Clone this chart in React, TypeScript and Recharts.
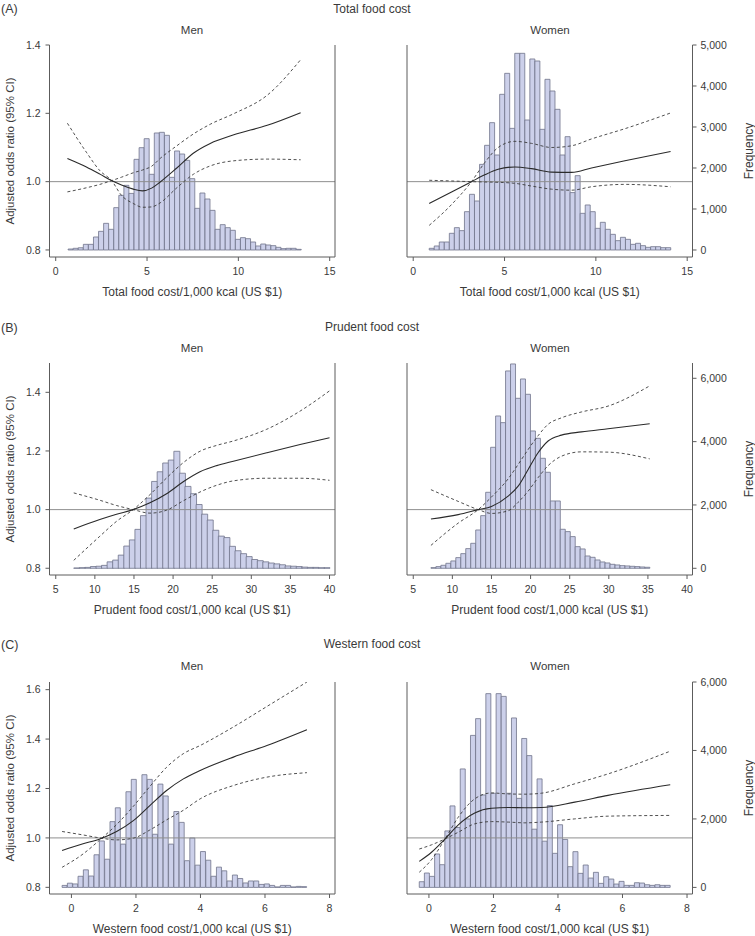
import React from 'react';
import { ComposedChart, Bar, Line, XAxis, YAxis, ReferenceLine } from 'recharts';

const FONT = '"Liberation Sans", Arial, sans-serif';
const TEXT = '#3a3a3a';
const AXIS = '#5c5c5c';
const BAR_FILL = '#ccd0ea';
const BAR_STROKE = '#70738a';

// ---------- (A) Total food cost ----------
const totalXTicks = [0, 5, 10, 15];
const totalOrTicks = [0.8, 1.0, 1.2, 1.4];
const totalFreqTicks = [0, 1000, 2000, 3000, 4000, 5000];

const totalMenBinStart = 0.68;
const totalMenBinWidth = 0.2775;
const totalMenFreq = [
  24, 41, 55, 138, 138, 317, 455, 650, 504, 1033, 1333, 1577, 1380, 2211, 2496, 2715,
  1846, 2854, 2870, 2797, 1772, 2415, 2341, 2187, 1740, 1016, 1390, 1244, 967, 504,
  618, 545, 480, 260, 301, 276, 195, 98, 146, 122, 106, 65, 33, 41, 41, 16,
];
const totalMenX = [0.64, 1.68, 2.42, 3.06, 3.6, 4.25, 4.75, 5.25, 5.72, 6.63, 7.55, 8.46, 9.75, 11.58, 13.41];
const totalMenOr = [1.068, 1.043, 1.022, 1.003, 0.99, 0.978, 0.973, 0.981, 0.999, 1.04, 1.084, 1.112, 1.137, 1.165, 1.202];
const totalMenUpper = [0.97, 0.982, 0.992, 1.003, 1.013, 1.026, 1.034, 1.045, 1.068, 1.105, 1.14, 1.168, 1.199, 1.253, 1.357];
const totalMenLower = [1.171, 1.086, 1.032, 1.003, 0.96, 0.936, 0.925, 0.926, 0.938, 0.982, 1.022, 1.046, 1.061, 1.066, 1.064];

const totalWomenBinStart = 0.876;
const totalWomenBinWidth = 0.2755;
const totalWomenFreq = [
  41, 98, 195, 195, 407, 545, 472, 935, 1358, 1195, 2089, 2553, 3106, 2317, 3797, 4309,
  2967, 4797, 4797, 3171, 4659, 4610, 2943, 4163, 3878, 3431, 2317, 2764, 1400, 1813,
  894, 1098, 935, 528, 675, 504, 382, 228, 309, 260, 138, 163, 106, 65, 81, 81, 57, 57,
];
const totalWomenX = [0.876, 2.1, 3.19, 3.92, 4.65, 5.57, 6.48, 7.57, 8.67, 9.76, 11.59, 14.09];
const totalWomenOr = [0.936, 0.97, 1.0, 1.02, 1.036, 1.043, 1.038, 1.028, 1.027, 1.04, 1.061, 1.088];
const totalWomenUpper = [0.872, 0.933, 1.0, 1.056, 1.1, 1.118, 1.112, 1.1, 1.105, 1.125, 1.155, 1.201];
const totalWomenLower = [1.004, 1.002, 1.0, 0.999, 0.998, 0.995, 0.987, 0.978, 0.975, 0.985, 0.992, 0.985];

// ---------- (B) Prudent food cost ----------
const prudentXTicks = [5, 10, 15, 20, 25, 30, 35, 40];
const prudentOrTicks = [0.8, 1.0, 1.2, 1.4];
const prudentFreqTicks = [0, 2000, 4000, 6000];

const prudentMenBinStart = 7.3;
const prudentMenBinWidth = 0.711;
const prudentMenFreq = [
  10, 20, 28, 55, 65, 92, 203, 259, 416, 702, 896, 1229, 1663, 2217, 2743, 3048, 3325,
  3418, 3695, 3002, 2586, 2355, 2014, 1709, 1524, 1201, 1016, 970, 693, 554, 462, 369,
  277, 240, 203, 166, 139, 111, 74, 65, 55, 37, 28, 28, 18, 18,
];
const prudentMenX = [7.3, 10.63, 12.77, 14.9, 17.04, 19.17, 21.3, 23.44, 25.57, 27.7, 31.97, 36.24, 40];
const prudentMenOr = [0.934, 0.966, 0.984, 1.0, 1.023, 1.054, 1.095, 1.129, 1.15, 1.165, 1.194, 1.222, 1.245];
const prudentMenUpper = [0.827, 0.909, 0.96, 1.0, 1.051, 1.108, 1.16, 1.199, 1.219, 1.234, 1.274, 1.336, 1.405];
const prudentMenLower = [1.057, 1.032, 1.014, 1.0, 0.988, 0.998, 1.03, 1.06, 1.083, 1.098, 1.107, 1.107, 1.1];

const prudentWomenBinStart = 7.26;
const prudentWomenBinWidth = 0.636;
const prudentWomenFreq = [
  21, 53, 95, 158, 232, 337, 463, 621, 789, 1210, 1663, 2400, 3821, 4810, 4600, 6232,
  6453, 5368, 5979, 5495, 4337, 4105, 3474, 3032, 2126, 2126, 1232, 1158, 1000, 684,
  611, 389, 347, 263, 200, 168, 126, 105, 84, 74, 63, 53, 42, 32,
];
const prudentWomenX = [7.26, 10.75, 13.3, 15.0, 17.13, 18.41, 19.69, 20.96, 22.24, 23.94, 26.5, 29.9, 35.23];
const prudentWomenOr = [0.968, 0.983, 1.0, 1.011, 1.046, 1.08, 1.137, 1.194, 1.234, 1.254, 1.265, 1.276, 1.293];
const prudentWomenUpper = [0.878, 0.954, 1.0, 1.043, 1.105, 1.154, 1.205, 1.252, 1.291, 1.313, 1.333, 1.353, 1.422];
const prudentWomenLower = [1.068, 1.028, 1.0, 0.987, 0.996, 1.025, 1.063, 1.109, 1.15, 1.182, 1.197, 1.196, 1.173];

// ---------- (C) Western food cost ----------
const westernXTicks = [0, 2, 4, 6, 8];
const westernOrTicks = [0.8, 1.0, 1.2, 1.4, 1.6];
const westernFreqTicks = [0, 2000, 4000, 6000];

const westernMenBinStart = -0.29;
const westernMenBinWidth = 0.165;
const westernMenFreq = [
  58, 123, 101, 325, 513, 332, 953, 1357, 823, 1921, 2325, 1264, 2794, 3155, 1444, 3292,
  3155, 1552, 3018, 2671, 1264, 2217, 1899, 780, 1444, 650, 1047, 794, 325, 592, 484,
  188, 361, 260, 130, 188, 188, 87, 101, 58, 14, 58, 58, 14, 29, 22,
];
const westernMenX = [-0.29, 0.36, 0.88, 1.4, 1.92, 2.43, 2.95, 3.47, 3.99, 5.02, 6.06, 7.3];
const westernMenOr = [0.949, 0.976, 0.996, 1.026, 1.07, 1.131, 1.192, 1.239, 1.273, 1.327, 1.374, 1.438];
const westernMenUpper = [0.881, 0.935, 0.992, 1.054, 1.128, 1.208, 1.286, 1.341, 1.374, 1.449, 1.532, 1.631];
const westernMenLower = [1.026, 1.012, 1.0, 0.992, 0.999, 1.032, 1.073, 1.112, 1.158, 1.212, 1.246, 1.264];

const westernWomenBinStart = -0.3;
const westernWomenBinWidth = 0.1588;
const westernWomenFreq = [
  166, 420, 322, 976, 663, 1650, 2380, 1750, 3460, 2000, 4440, 4930, 2700, 5660, 2750,
  5660, 5580, 2750, 4950, 2600, 4350, 3850, 1700, 3170, 1350, 2390, 995, 1830, 1400, 605,
  1044, 410, 654, 273, 440, 117, 312, 244, 98, 176, 59, 59, 137, 127, 78, 59, 78, 59, 59,
];
const westernWomenX = [-0.3, 0.08, 0.5, 0.91, 1.42, 1.94, 2.46, 2.97, 3.49, 4.52, 5.55, 7.48];
const westernWomenOr = [0.905, 0.942, 0.996, 1.053, 1.101, 1.12, 1.123, 1.122, 1.123, 1.145, 1.172, 1.215];
const westernWomenUpper = [0.861, 0.912, 0.996, 1.084, 1.158, 1.182, 1.178, 1.177, 1.181, 1.219, 1.259, 1.351];
const westernWomenLower = [0.955, 0.972, 0.996, 1.023, 1.057, 1.066, 1.064, 1.061, 1.064, 1.077, 1.088, 1.091];

// ---------- layout ----------
const PLOT_W = 285.5;
const PLOT_H = 212;
const MARGIN_TOP = 12;
const X_AXIS_H = 42;
const CHART_H = MARGIN_TOP + PLOT_H + X_AXIS_H;
const MEN_LEFT_W = 49.5;
const MEN_RIGHT_W = 10;
const WOMEN_LEFT_W = 10;
const WOMEN_RIGHT_W = 62;

type Side = 'men' | 'women';

type PanelProps = {
  side: Side;
  left: number;
  top: number;
  binStart: number;
  binWidth: number;
  freq: number[];
  curveX: number[];
  or: number[];
  upper: number[];
  lower: number[];
  xDomain: [number, number];
  xTicks: number[];
  orDomain: [number, number];
  orTicks: number[];
  freqDomain: [number, number];
  freqTicks: number[];
  xLabel: string;
};

const tickStyle = { fontSize: 10.5, fill: TEXT, fontFamily: FONT };

function Panel(p: PanelProps) {
  const leftW = p.side === 'men' ? MEN_LEFT_W : WOMEN_LEFT_W;
  const rightW = p.side === 'men' ? MEN_RIGHT_W : WOMEN_RIGHT_W;
  const width = leftW + PLOT_W + rightW;
  const margin = { top: MARGIN_TOP, right: 0, bottom: 0, left: 0 };

  const bins = p.freq.map((f, i) => ({ x: p.binStart + p.binWidth * (i + 0.5), f }));
  const curve = p.curveX.map((x, i) => ({ x, or: p.or[i], upper: p.upper[i], lower: p.lower[i] }));

  const layer: React.CSSProperties = { position: 'absolute', left: 0, top: 0 };

  return (
    <div style={{ position: 'absolute', left: p.left, top: p.top, width, height: CHART_H }}>
      {/* histogram layer */}
      <div style={layer}>
        <ComposedChart width={width} height={CHART_H} data={bins} margin={margin} barCategoryGap={0} barGap={0}>
          <XAxis dataKey="x" type="number" domain={p.xDomain} ticks={p.xTicks} allowDataOverflow
            height={X_AXIS_H} axisLine={false} tickLine={false} tick={false} />
          <YAxis yAxisId="or" orientation="left" type="number" domain={p.orDomain} ticks={p.orTicks}
            allowDataOverflow width={leftW} axisLine={false} tickLine={false} tick={false} />
          <YAxis yAxisId="freq" orientation="right" type="number" domain={p.freqDomain} ticks={p.freqTicks}
            allowDataOverflow width={rightW} axisLine={false} tickLine={false} tick={false} />
          <Bar yAxisId="freq" dataKey="f" fill={BAR_FILL} stroke={BAR_STROKE} strokeWidth={0.8}
            isAnimationActive={false} />
        </ComposedChart>
      </div>
      {/* curves + axes layer */}
      <div style={layer}>
        <ComposedChart width={width} height={CHART_H} data={curve} margin={margin}>
          <XAxis dataKey="x" type="number" domain={p.xDomain} ticks={p.xTicks} allowDataOverflow
            height={X_AXIS_H} stroke={AXIS} tickSize={4} tickMargin={7} tick={tickStyle}
            label={{ value: p.xLabel, position: 'insideBottom', offset: 3, fontSize: 12, fill: TEXT, fontFamily: FONT }} />
          <YAxis yAxisId="or" orientation="left" type="number" domain={p.orDomain} ticks={p.orTicks}
            allowDataOverflow width={leftW} stroke={AXIS} tickSize={4} tickMargin={5}
            tick={p.side === 'men' ? tickStyle : false}
            tickFormatter={(v: number) => v.toFixed(1)}
            label={p.side === 'men'
              ? { value: 'Adjusted odds ratio (95% CI)', angle: -90, position: 'insideLeft', offset: 10,
                  fontSize: 11.5, fill: TEXT, fontFamily: FONT, style: { textAnchor: 'middle' } }
              : undefined} />
          <YAxis yAxisId="freq" orientation="right" type="number" domain={p.freqDomain} ticks={p.freqTicks}
            allowDataOverflow width={rightW} stroke={AXIS} tickSize={4} tickMargin={4}
            tick={p.side === 'women' ? tickStyle : false}
            tickFormatter={(v: number) => v.toLocaleString('en-US')}
            label={p.side === 'women'
              ? { value: 'Frequency', angle: -90, position: 'insideRight', offset: 6,
                  fontSize: 12, fill: TEXT, fontFamily: FONT, style: { textAnchor: 'middle' } }
              : undefined} />
          <ReferenceLine yAxisId="or" y={1} stroke="#8f8f8f" strokeWidth={1} />
          <Line yAxisId="or" type="monotone" dataKey="upper" stroke="#3c3c3c" strokeWidth={0.9}
            strokeDasharray="3 2.5" dot={false} isAnimationActive={false} />
          <Line yAxisId="or" type="monotone" dataKey="lower" stroke="#3c3c3c" strokeWidth={0.9}
            strokeDasharray="3 2.5" dot={false} isAnimationActive={false} />
          <Line yAxisId="or" type="monotone" dataKey="or" stroke="#2a2a2a" strokeWidth={1.1}
            dot={false} isAnimationActive={false} />
        </ComposedChart>
      </div>
    </div>
  );
}

type RowProps = {
  plotTop: number;
  men: Omit<PanelProps, 'side' | 'left' | 'top'>;
  women: Omit<PanelProps, 'side' | 'left' | 'top'>;
};

function Row({ plotTop, men, women }: RowProps) {
  const top = plotTop - MARGIN_TOP;
  return (
    <>
      <Panel side="men" left={0} top={top} {...men} />
      <Panel side="women" left={407.3 - WOMEN_LEFT_W} top={top} {...women} />
    </>
  );
}

const rowTitles = [
  { tag: '(A)', title: 'Total food cost', tagY: 12.5, titleY: 12.5, subY: 33.5 },
  { tag: '(B)', title: 'Prudent food cost', tagY: 331.5, titleY: 330.5, subY: 351.5 },
  { tag: '(C)', title: 'Western food cost', tagY: 649, titleY: 647.5, subY: 670 },
];

export default function App() {
  return (
    <div style={{ position: 'absolute', left: 0, top: 0, width: 755, height: 936, background: '#fff', fontFamily: FONT }}>
      <svg width={755} height={936} style={{ position: 'absolute', left: 0, top: 0 }}>
        {rowTitles.map((r) => (
          <g key={r.tag} fontFamily={FONT} fill={TEXT}>
            <text x={1} y={r.tagY} fontSize={12.5}>{r.tag}</text>
            <text x={372} y={r.titleY} fontSize={12} textAnchor="middle">{r.title}</text>
            <text x={192} y={r.subY} fontSize={11.5} textAnchor="middle">Men</text>
            <text x={550} y={r.subY} fontSize={11.5} textAnchor="middle">Women</text>
          </g>
        ))}
      </svg>

      <Row
        plotTop={45}
        men={{
          binStart: totalMenBinStart, binWidth: totalMenBinWidth, freq: totalMenFreq,
          curveX: totalMenX, or: totalMenOr, upper: totalMenUpper, lower: totalMenLower,
          xDomain: [-0.34, 15.29], xTicks: totalXTicks, orDomain: [0.7794, 1.4], orTicks: totalOrTicks,
          freqDomain: [-171, 5000], freqTicks: totalFreqTicks, xLabel: 'Total food cost/1,000 kcal (US $1)',
        }}
        women={{
          binStart: totalWomenBinStart, binWidth: totalWomenBinWidth, freq: totalWomenFreq,
          curveX: totalWomenX, or: totalWomenOr, upper: totalWomenUpper, lower: totalWomenLower,
          xDomain: [-0.34, 15.29], xTicks: totalXTicks, orDomain: [0.7794, 1.4], orTicks: totalOrTicks,
          freqDomain: [-171, 5000], freqTicks: totalFreqTicks, xLabel: 'Total food cost/1,000 kcal (US $1)',
        }}
      />
      <Row
        plotTop={363}
        men={{
          binStart: prudentMenBinStart, binWidth: prudentMenBinWidth, freq: prudentMenFreq,
          curveX: prudentMenX, or: prudentMenOr, upper: prudentMenUpper, lower: prudentMenLower,
          xDomain: [4.2, 40.7], xTicks: prudentXTicks, orDomain: [0.777, 1.5], orTicks: prudentOrTicks,
          freqDomain: [-212, 6483], freqTicks: prudentFreqTicks, xLabel: 'Prudent food cost/1,000 kcal (US $1)',
        }}
        women={{
          binStart: prudentWomenBinStart, binWidth: prudentWomenBinWidth, freq: prudentWomenFreq,
          curveX: prudentWomenX, or: prudentWomenOr, upper: prudentWomenUpper, lower: prudentWomenLower,
          xDomain: [4.2, 40.7], xTicks: prudentXTicks, orDomain: [0.777, 1.5], orTicks: prudentOrTicks,
          freqDomain: [-212, 6483], freqTicks: prudentFreqTicks, xLabel: 'Prudent food cost/1,000 kcal (US $1)',
        }}
      />
      <Row
        plotTop={681.7}
        men={{
          binStart: westernMenBinStart, binWidth: westernMenBinWidth, freq: westernMenFreq,
          curveX: westernMenX, or: westernMenOr, upper: westernMenUpper, lower: westernMenLower,
          xDomain: [-0.68, 8.17], xTicks: westernXTicks, orDomain: [0.773, 1.631], orTicks: westernOrTicks,
          freqDomain: [-193, 6000], freqTicks: westernFreqTicks, xLabel: 'Western food cost/1,000 kcal (US $1)',
        }}
        women={{
          binStart: westernWomenBinStart, binWidth: westernWomenBinWidth, freq: westernWomenFreq,
          curveX: westernWomenX, or: westernWomenOr, upper: westernWomenUpper, lower: westernWomenLower,
          xDomain: [-0.68, 8.17], xTicks: westernXTicks, orDomain: [0.773, 1.631], orTicks: westernOrTicks,
          freqDomain: [-193, 6000], freqTicks: westernFreqTicks, xLabel: 'Western food cost/1,000 kcal (US $1)',
        }}
      />
    </div>
  );
}
